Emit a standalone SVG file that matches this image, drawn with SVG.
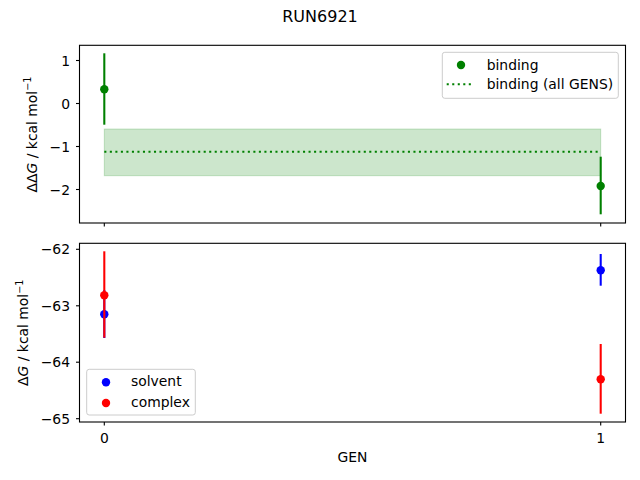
<svg xmlns="http://www.w3.org/2000/svg" width="640" height="480" viewBox="0 0 640 480">
<style>
text{font-family:"DejaVu Sans",sans-serif;fill:#000}
.t{font-size:13.9px}
.ax{fill:none;stroke:#000;stroke-width:1.1}
.tk{stroke:#000;stroke-width:1.1}
.eg{stroke:#008000;stroke-width:2.08}
.eb{stroke:#0000ff;stroke-width:2.08}
.er{stroke:#ff0000;stroke-width:2.08}
.leg{fill:#fff;fill-opacity:0.8;stroke:#cccccc;stroke-width:1}
</style>
<rect width="640" height="480" fill="#fff"/>
<text x="320" y="22" font-size="16" text-anchor="middle">RUN6921</text>

<g id="top-axes">
<rect x="104.3" y="129" width="496.4" height="46.7" fill="#008000" fill-opacity="0.2" stroke="#008000" stroke-opacity="0.2" stroke-width="1"/>
<line x1="104.3" y1="151.7" x2="600.7" y2="151.7" stroke="#008000" stroke-width="2.08" stroke-dasharray="2.08 3.44"/>
<line class="eg" x1="104.3" y1="53.3" x2="104.3" y2="124.7"/>
<circle cx="104.3" cy="89.3" r="4.2" fill="#008000"/>
<line class="eg" x1="600.7" y1="156.7" x2="600.7" y2="214.3"/>
<circle cx="600.7" cy="186" r="4.2" fill="#008000"/>
<rect class="ax" x="79.5" y="45.3" width="546" height="177.7"/>
<g class="tk">
<line x1="79.5" y1="60.5" x2="76" y2="60.5"/>
<line x1="79.5" y1="103.5" x2="76" y2="103.5"/>
<line x1="79.5" y1="146.5" x2="76" y2="146.5"/>
<line x1="79.5" y1="189.5" x2="76" y2="189.5"/>
<line x1="104.3" y1="223" x2="104.3" y2="226.5"/>
<line x1="600.7" y1="223" x2="600.7" y2="226.5"/>
</g>
<g class="t" text-anchor="end">
<text x="70" y="65.5">1</text>
<text x="70" y="108.5">0</text>
<text x="70" y="151.5">−1</text>
<text x="70" y="194.5">−2</text>
</g>
<text class="t" transform="translate(36.5,134.5) rotate(-90)" text-anchor="middle">Δ<tspan>Δ</tspan><tspan font-style="italic">G</tspan> / kcal mol<tspan font-size="9.7" dy="-5.5">−1</tspan></text>
</g>

<g id="top-legend">
<rect class="leg" x="442.3" y="52.3" width="176" height="46" rx="2.5"/>
<circle cx="461" cy="65" r="4.2" fill="#008000"/>
<text class="t" x="486.7" y="69.6">binding</text>
<line x1="446.7" y1="84.3" x2="474.3" y2="84.3" stroke="#008000" stroke-width="2.08" stroke-dasharray="2.08 3.44"/>
<text class="t" x="486.7" y="89">binding (all GENS)</text>
</g>

<g id="bottom-axes">
<line class="eb" x1="104.3" y1="290" x2="104.3" y2="338"/>
<circle cx="104.3" cy="314.3" r="4.2" fill="#0000ff"/>
<line class="er" x1="104.3" y1="251.3" x2="104.3" y2="337.7"/>
<circle cx="104.3" cy="295.3" r="4.2" fill="#ff0000"/>
<line class="eb" x1="600.7" y1="254" x2="600.7" y2="285.7"/>
<circle cx="600.7" cy="270.3" r="4.2" fill="#0000ff"/>
<line class="er" x1="600.7" y1="344" x2="600.7" y2="413.7"/>
<circle cx="600.7" cy="379.3" r="4.2" fill="#ff0000"/>
<rect class="ax" x="79.5" y="243.3" width="546" height="178.7"/>
<g class="tk">
<line x1="79.5" y1="249.3" x2="76" y2="249.3"/>
<line x1="79.5" y1="305.8" x2="76" y2="305.8"/>
<line x1="79.5" y1="362.2" x2="76" y2="362.2"/>
<line x1="79.5" y1="418.7" x2="76" y2="418.7"/>
<line x1="104.3" y1="422" x2="104.3" y2="425.5"/>
<line x1="600.7" y1="422" x2="600.7" y2="425.5"/>
</g>
<g class="t" text-anchor="end">
<text x="70" y="254.3">−62</text>
<text x="70" y="310.8">−63</text>
<text x="70" y="367.2">−64</text>
<text x="70" y="423.7">−65</text>
</g>
<g class="t" text-anchor="middle">
<text x="104.3" y="443">0</text>
<text x="600.7" y="443">1</text>
<text x="352.5" y="462">GEN</text>
</g>
<text class="t" transform="translate(28,332.7) rotate(-90)" text-anchor="middle">Δ<tspan font-style="italic">G</tspan> / kcal mol<tspan font-size="9.7" dy="-5.5">−1</tspan></text>
</g>

<g id="bottom-legend">
<rect class="leg" x="86.7" y="369.3" width="108.6" height="45.7" rx="2.5"/>
<circle cx="106" cy="382.3" r="4.2" fill="#0000ff"/>
<text class="t" x="131" y="386">solvent</text>
<circle cx="106" cy="403" r="4.2" fill="#ff0000"/>
<text class="t" x="131" y="406.5">complex</text>
</g>
</svg>
